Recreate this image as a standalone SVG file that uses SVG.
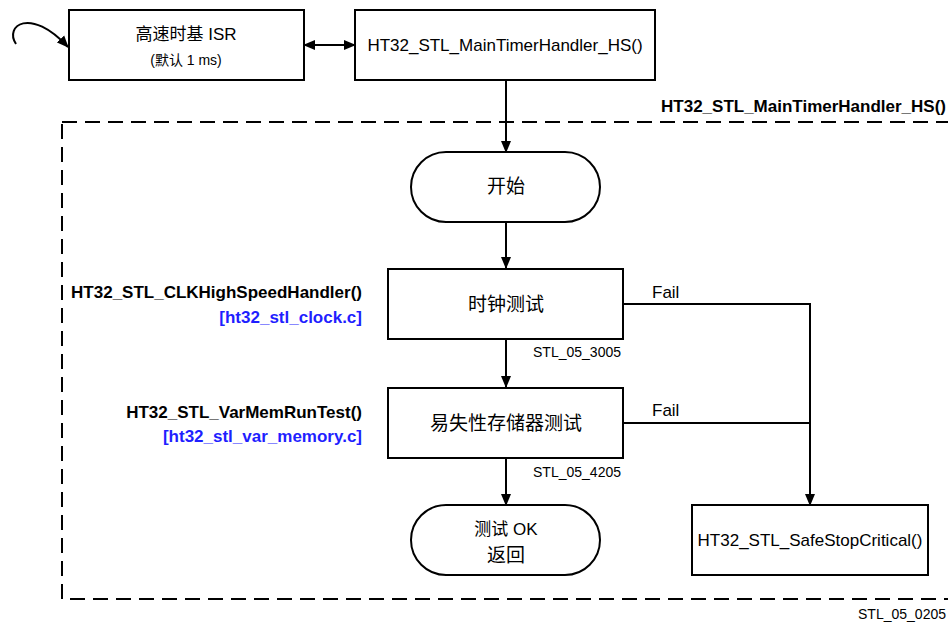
<svg xmlns="http://www.w3.org/2000/svg" width="948" height="626" viewBox="0 0 948 626">
<style>
.box{fill:#fff;stroke:#000;stroke-width:2}
.ln{fill:none;stroke:#000;stroke-width:2}
.t{font-family:"Liberation Sans","Noto Sans CJK SC",sans-serif;font-size:17px;fill:#000}
.cn{font-size:19px}
.s{font-size:14px}
.b{font-weight:bold}
.blue{fill:#1f1fff}
</style>
<defs>
<marker id="ah" markerWidth="12" markerHeight="12" refX="11" refY="6" orient="auto" markerUnits="userSpaceOnUse" viewBox="0 0 12 12">
<path d="M0,1 L12,6 L0,11 z" fill="#000"/>
</marker>
<marker id="ahs" markerWidth="12" markerHeight="12" refX="1" refY="6" orient="auto" markerUnits="userSpaceOnUse" viewBox="0 0 12 12">
<path d="M12,1 L0,6 L12,11 z" fill="#000"/>
</marker>
</defs>
<rect x="62" y="122" width="900" height="477" fill="none" stroke="#000" stroke-width="2" stroke-dasharray="15,8"/>
<text class="t b" x="946" y="112" text-anchor="end">HT32_STL_MainTimerHandler_HS()</text>
<text class="t s" x="946" y="619" text-anchor="end">STL_05_0205</text>

<g id="connectors">
<path class="ln" d="M16,44 C4,26 30,6 68,47" marker-end="url(#ah)"/>
<line class="ln" x1="304" y1="45" x2="355" y2="45" marker-start="url(#ahs)" marker-end="url(#ah)"/>
<line class="ln" x1="506" y1="80" x2="506" y2="152" marker-end="url(#ah)"/>
<line class="ln" x1="506" y1="222" x2="506" y2="268" marker-end="url(#ah)"/>
<line class="ln" x1="506" y1="339" x2="506" y2="387" marker-end="url(#ah)"/>
<line class="ln" x1="506" y1="458" x2="506" y2="505" marker-end="url(#ah)"/>
<path class="ln" d="M623,304 H810 V505" marker-end="url(#ah)"/>
<line class="ln" x1="623" y1="423" x2="810" y2="423"/>
<text class="t" x="652" y="298">Fail</text>
<text class="t" x="652" y="416">Fail</text>
<text class="t s" x="621" y="357" text-anchor="end">STL_05_3005</text>
<text class="t s" x="621" y="477" text-anchor="end">STL_05_4205</text>
</g>

<g id="isr">
<rect class="box" x="69" y="10" width="235" height="70"/>
<text class="t" x="186" y="40" text-anchor="middle" font-size="18">高速时基 ISR</text>
<text class="t s" x="186" y="65" text-anchor="middle">(默认 1 ms)</text>
</g>
<g id="main">
<rect class="box" x="355" y="10" width="300" height="70"/>
<text class="t" x="505" y="51" text-anchor="middle">HT32_STL_MainTimerHandler_HS()</text>
</g>
<g id="start">
<rect class="box" x="411" y="152" width="189" height="70" rx="35"/>
<text class="t cn" x="506" y="193" text-anchor="middle">开始</text>
</g>
<g id="clock">
<rect class="box" x="388" y="269" width="235" height="70"/>
<text class="t cn" x="506" y="311" text-anchor="middle">时钟测试</text>
<text class="t b" x="362" y="298" text-anchor="end">HT32_STL_CLKHighSpeedHandler()</text>
<text class="t b blue" x="362" y="323" text-anchor="end">[ht32_stl_clock.c]</text>
</g>
<g id="varmem">
<rect class="box" x="388" y="388" width="235" height="70"/>
<text class="t cn" x="506" y="430" text-anchor="middle">易失性存储器测试</text>
<text class="t b" x="362" y="418" text-anchor="end">HT32_STL_VarMemRunTest()</text>
<text class="t b blue" x="362" y="442" text-anchor="end">[ht32_stl_var_memory.c]</text>
</g>
<g id="ok">
<rect class="box" x="411" y="505" width="189" height="70" rx="35"/>
<text class="t" x="506" y="535" text-anchor="middle" font-size="18">测试 OK</text>
<text class="t cn" x="506" y="562" text-anchor="middle">返回</text>
</g>
<g id="safestop">
<rect class="box" x="692" y="505" width="236" height="70"/>
<text class="t" x="810" y="546" text-anchor="middle">HT32_STL_SafeStopCritical()</text>
</g>
</svg>
